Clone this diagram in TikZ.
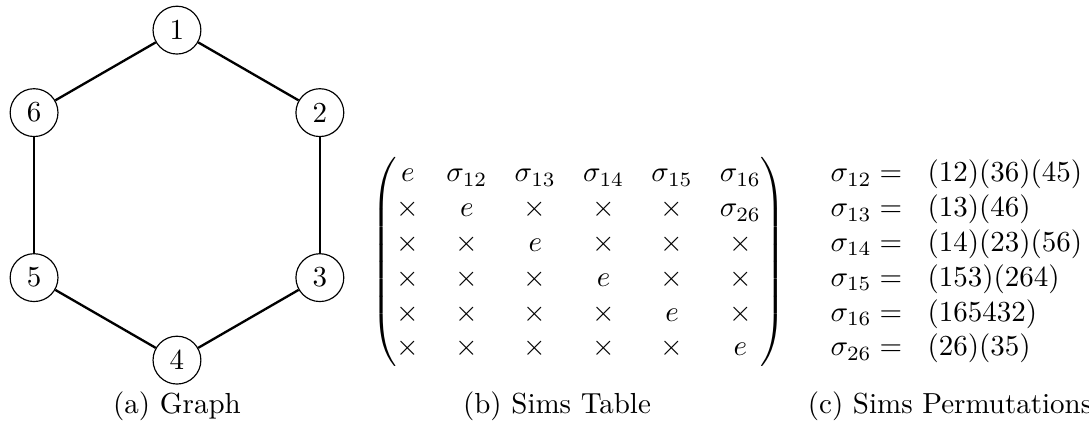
\documentclass[tikz,border=0pt]{standalone}
\usepackage{amsmath,amssymb}
\usepackage{tikz}
\usetikzlibrary{positioning,calc}

\tikzset{
  vertex/.style={draw, circle, minimum size=16.5pt, inner sep=1pt, fill=white},
  edge/.style={line width=0.8pt},
  subcap/.style={anchor=base},
}

\begin{document}
\begin{tikzpicture}
\useasboundingbox (-2.145,-2.845) rectangle (11.055,2.365);

% hexagon graph
\foreach \i in {1,...,6}
  \node[vertex] (v\i) at ({150-60*\i}:2) {\i};
\foreach \i/\j in {1/2,2/3,3/4,4/5,5/6,6/1}
  \draw[edge] (v\i) -- (v\j);
\node[subcap] (capa) at (0,-2.65) {(a) Graph};

% sims table
\node[inner sep=0pt] (table) at (4.87,-0.81) {\setlength{\arraycolsep}{4.7pt}$\begin{pmatrix}
e & \sigma_{12} & \sigma_{13} & \sigma_{14} & \sigma_{15} & \sigma_{16}\\
\times & e & \times & \times & \times & \sigma_{26}\\
\times & \times & e & \times & \times & \times\\
\times & \times & \times & e & \times & \times\\
\times & \times & \times & \times & e & \times\\
\times & \times & \times & \times & \times & e
\end{pmatrix}$};
\node[subcap] (capb) at (4.606,-2.65) {(b) Sims Table};

% permutations
\node[inner sep=0pt, anchor=west] (perms) at (7.915,-0.81) {$\begin{array}{@{}r@{\hspace{6pt}}l@{}}
\sigma_{12} ={} & (12)(36)(45)\\
\sigma_{13} ={} & (13)(46)\\
\sigma_{14} ={} & (14)(23)(56)\\
\sigma_{15} ={} & (153)(264)\\
\sigma_{16} ={} & (165432)\\
\sigma_{26} ={} & (26)(35)
\end{array}$};
\node[subcap] (capc) at (9.37,-2.65) {(c) Sims Permutations};
\end{tikzpicture}
\end{document}
